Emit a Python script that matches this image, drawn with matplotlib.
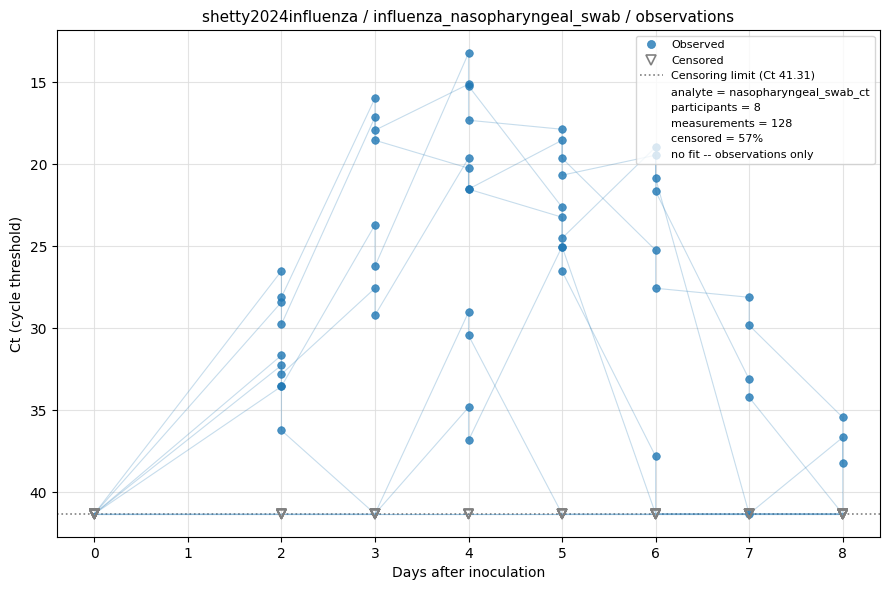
import numpy as np
import matplotlib
matplotlib.use("Agg")
import matplotlib.pyplot as plt
from matplotlib.lines import Line2D

C = None  # censored measurement
LIMIT = 41.31

days = [0, 0, 2, 2, 3, 3, 4, 4, 5, 5, 6, 6, 7, 7, 8, 8]

p1 = [C, C, 26.51, 28.11, 15.98, 17.93, 15.12, 17.32, 17.87, 19.63, 25.24, 27.56, 28.11, 29.82, 35.43, C]
p2 = [C, C, 28.41, 29.76, 17.13, 18.54, 20.24, 21.52, 18.54, 20.67, 19.45, 21.65, 33.11, 34.21, C, C]
p3 = [C, C, 33.54, 33.54, 23.70, 26.22, 13.23, 15.23, 22.62, 24.51, 18.96, 20.85, C, C, C, C]
p4 = [C, C, 31.65, 32.80, 27.56, 29.21, 19.63, 21.52, 23.23, 25.02, C, C, C, 41.30, C, C]
p5 = [C, C, 32.26, 36.22, C, C, 29.02, 30.43, C, C, C, C, C, C, C, C]
p6 = [C, C, C, C, C, C, 34.82, 36.83, 25.02, 26.52, 37.80, C, C, C, 36.65, 38.23]
p7 = [C] * 16
p8 = [C] * 16

participants = [p1, p2, p3, p4, p5, p6, p7, p8]

title = "shetty2024influenza / influenza_nasopharyngeal_swab / observations"
info_lines = [
    "analyte = nasopharyngeal_swab_ct",
    "participants = 8",
    "measurements = 128",
    "censored = 57%",
    "no fit -- observations only",
]

blue = "#1f77b4"

fig, ax = plt.subplots(figsize=(8.89, 5.90), dpi=100)
fig.subplots_adjust(left=0.064, right=0.990, top=0.949, bottom=0.090)

obs_x, obs_y, cen_x = [], [], []
for p in participants:
    x = np.array(days, dtype=float)
    y = np.array([LIMIT if v is None else v for v in p], dtype=float)
    ax.plot(x, y, color=blue, alpha=0.25, linewidth=0.8, zorder=2)
    for d, v in zip(days, p):
        if v is None:
            cen_x.append(d)
        else:
            obs_x.append(d)
            obs_y.append(v)

ax.axhline(LIMIT, color="gray", linestyle=":", linewidth=1.2, zorder=1)
ax.scatter(obs_x, obs_y, s=30, color=blue, alpha=0.8, zorder=3, linewidths=0.5,
           edgecolors=blue)
ax.scatter(cen_x, [LIMIT] * len(cen_x), s=42, marker="v", facecolors="none",
           edgecolors="gray", linewidths=1.2, zorder=4)

ax.invert_yaxis()
ax.grid(True, color="#dddddd", linewidth=0.8, alpha=0.8)
ax.set_axisbelow(True)
ax.set_xlabel("Days after inoculation")
ax.set_ylabel("Ct (cycle threshold)")
ax.set_title(title, fontsize=11)

handles = [
    Line2D([], [], marker="o", linestyle="none", color=blue, alpha=0.8, markersize=5.8,
           markeredgewidth=0.5),
    Line2D([], [], marker="v", linestyle="none", markerfacecolor="none",
           markeredgecolor="gray", markersize=6.5, markeredgewidth=1.2),
    Line2D([], [], color="gray", linestyle=":", linewidth=1.2),
]
labels = ["Observed", "Censored", f"Censoring limit (Ct {LIMIT:.2f})"]
for t in info_lines:
    handles.append(Line2D([], [], linestyle="none"))
    labels.append(t)
ax.legend(handles, labels, loc="upper right", fontsize=8)

fig.savefig("out.png", dpi=100)
